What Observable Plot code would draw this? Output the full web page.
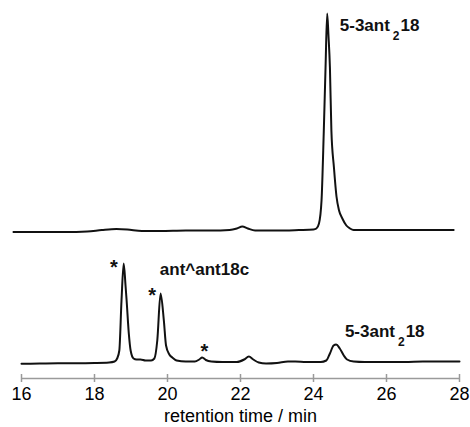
<!DOCTYPE html>
<html><head><meta charset="utf-8">
<script src="https://cdn.jsdelivr.net/npm/d3@7"></script>
<script src="https://cdn.jsdelivr.net/npm/@observablehq/plot@0.6"></script>
<style>body{margin:0;background:#fff} svg{display:block}</style>
</head><body><div id="chart"></div>
<script>
// Upper chromatogram (purified 5-3ant2 18): retention time (min) and signal above its baseline
const topTime =   [15.78, 16.5, 17.2, 17.8, 18.2, 18.6, 18.9, 19.3, 19.8, 20.5, 21.2, 21.7, 21.9, 22.05, 22.2, 22.4, 23.0, 23.6, 24.0, 24.08, 24.15, 24.22, 24.28, 24.33, 24.375, 24.41, 24.45, 24.49, 24.56, 24.63, 24.7, 24.79, 24.9, 25.0, 25.1, 25.5, 26.0, 26.5, 27.0, 27.4, 27.84];
const topSignal = [-1.5, -1.5, -1.5, -1, 0.5, 1.5, 1, -0.5, -0.5, 0, 0, 0.5, 2, 4, 2, 0, 0, 0.5, 1, 2, 7, 30, 97, 163, 217, 195, 163, 100, 63, 34, 20, 12, 5, 2, 0.5, 0.5, 0.5, 0.5, 0.5, 0.5, 0.5];

// Lower chromatogram (reaction mixture)
const bottomTime =   [16.0, 16.5, 17.0, 17.5, 18.0, 18.4, 18.55, 18.62, 18.68, 18.74, 18.80, 18.85, 18.88, 18.94, 18.99, 19.07, 19.15, 19.26, 19.4, 19.55, 19.64, 19.72, 19.81, 19.90, 19.96, 20.05, 20.13, 20.25, 20.5, 20.75, 20.87, 20.95, 21.05, 21.2, 21.5, 21.9, 22.1, 22.23, 22.35, 22.5, 22.7, 23.0, 23.3, 23.5, 23.8, 24.2, 24.35, 24.45, 24.55, 24.62, 24.72, 24.83, 24.92, 25.1, 25.4, 26.0, 26.5, 27.0, 27.5, 28.0];
const bottomSignal = [-0.3, 0, 0.3, 0.3, 0.5, 1, 2, 5, 13, 63, 100, 78, 63, 30, 13, 5, 4, 4, 3, 3, 5, 23, 70, 43, 18, 9, 6, 3, 2, 2, 4, 6, 3.5, 2, 1.5, 1.5, 4, 7, 4, 1, 0, 0.5, 2, 2, 1.5, 1.5, 3, 10, 18, 19, 15, 8, 4, 2, 1.5, 1.5, 1.5, 2, 2, 2];

const xTicks = [16, 18, 20, 22, 24, 26, 28];
const xLabel = "retention time / min";

// Peak annotations (label text, time, vertical level in plot units)
const labelText = ["5-3ant₂18", "ant^ant18c", "5-3ant₂18"];
const labelTime = [24.72, 19.79, 24.86];
const labelLevel = [344, 100, 37.3];

// Asterisks marking side products
const starTime = [18.53, 19.58, 21.01];
const starLevel = [112.3, 84, 28];

const TOP_BASE = 144, BOTTOM_BASE = 11;
const topData = topTime.map((t, i) => ({t, v: TOP_BASE + topSignal[i]}));
const bottomData = bottomTime.map((t, i) => ({t, v: BOTTOM_BASE + bottomSignal[i]}));
const labels = labelText.map((text, i) => ({text, t: labelTime[i], v: labelLevel[i]}));
const stars = starTime.map((t, i) => ({t, v: starLevel[i]}));

const FONT = "'Liberation Sans', Arial, Helvetica, sans-serif";

const plot = Plot.plot({
  width: 470, height: 427,
  marginLeft: 21, marginRight: 11, marginTop: 0, marginBottom: 53,
  x: {domain: [16, 28]},
  y: {domain: [0, 374], axis: null},
  style: {fontFamily: FONT, background: "white", color: "black"},
  marks: [
    Plot.ruleY([0], {dy: 4, stroke: "#9a9a9a", strokeWidth: 1.5}),
    Plot.axisX({ticks: xTicks, tickFormat: d => String(d), tickSize: 8, tickPadding: 5,
      stroke: "#9a9a9a", strokeWidth: 1.5, fill: "black", fontSize: 18,
      label: xLabel, labelAnchor: "center", labelArrow: "none", labelOffset: 47}),
    Plot.line(topData, {x: "t", y: "v", curve: "monotone-x", stroke: "#111", strokeWidth: 2}),
    Plot.line(bottomData, {x: "t", y: "v", curve: "monotone-x", stroke: "#111", strokeWidth: 2}),
    Plot.text(labels, {x: "t", y: "v", text: "text", textAnchor: "start", lineAnchor: "bottom",
      fontSize: 17, fontWeight: "bold", fill: "#111"}),
    Plot.text(stars, {x: "t", y: "v", text: () => "*", textAnchor: "middle", lineAnchor: "middle",
      fontSize: 20, fontWeight: "bold", fill: "#111", dy: 5})
  ]
});

// Render the "₂" as a real lowered subscript
plot.querySelectorAll("text").forEach(el => {
  const s = el.textContent;
  if (!s.includes("₂")) return;
  const [a, b] = s.split("₂");
  el.textContent = "";
  const ns = "http://www.w3.org/2000/svg";
  const t1 = document.createElementNS(ns, "tspan"); t1.textContent = a;
  const t2 = document.createElementNS(ns, "tspan"); t2.textContent = "2";
  t2.setAttribute("font-size", "12"); t2.setAttribute("dy", "9"); t2.setAttribute("dx", "3");
  const t3 = document.createElementNS(ns, "tspan"); t3.textContent = b;
  t3.setAttribute("dy", "-9"); t3.setAttribute("dx", "1");
  el.append(t1, t2, t3);
});

document.getElementById("chart").append(plot);
</script>
</body></html>
